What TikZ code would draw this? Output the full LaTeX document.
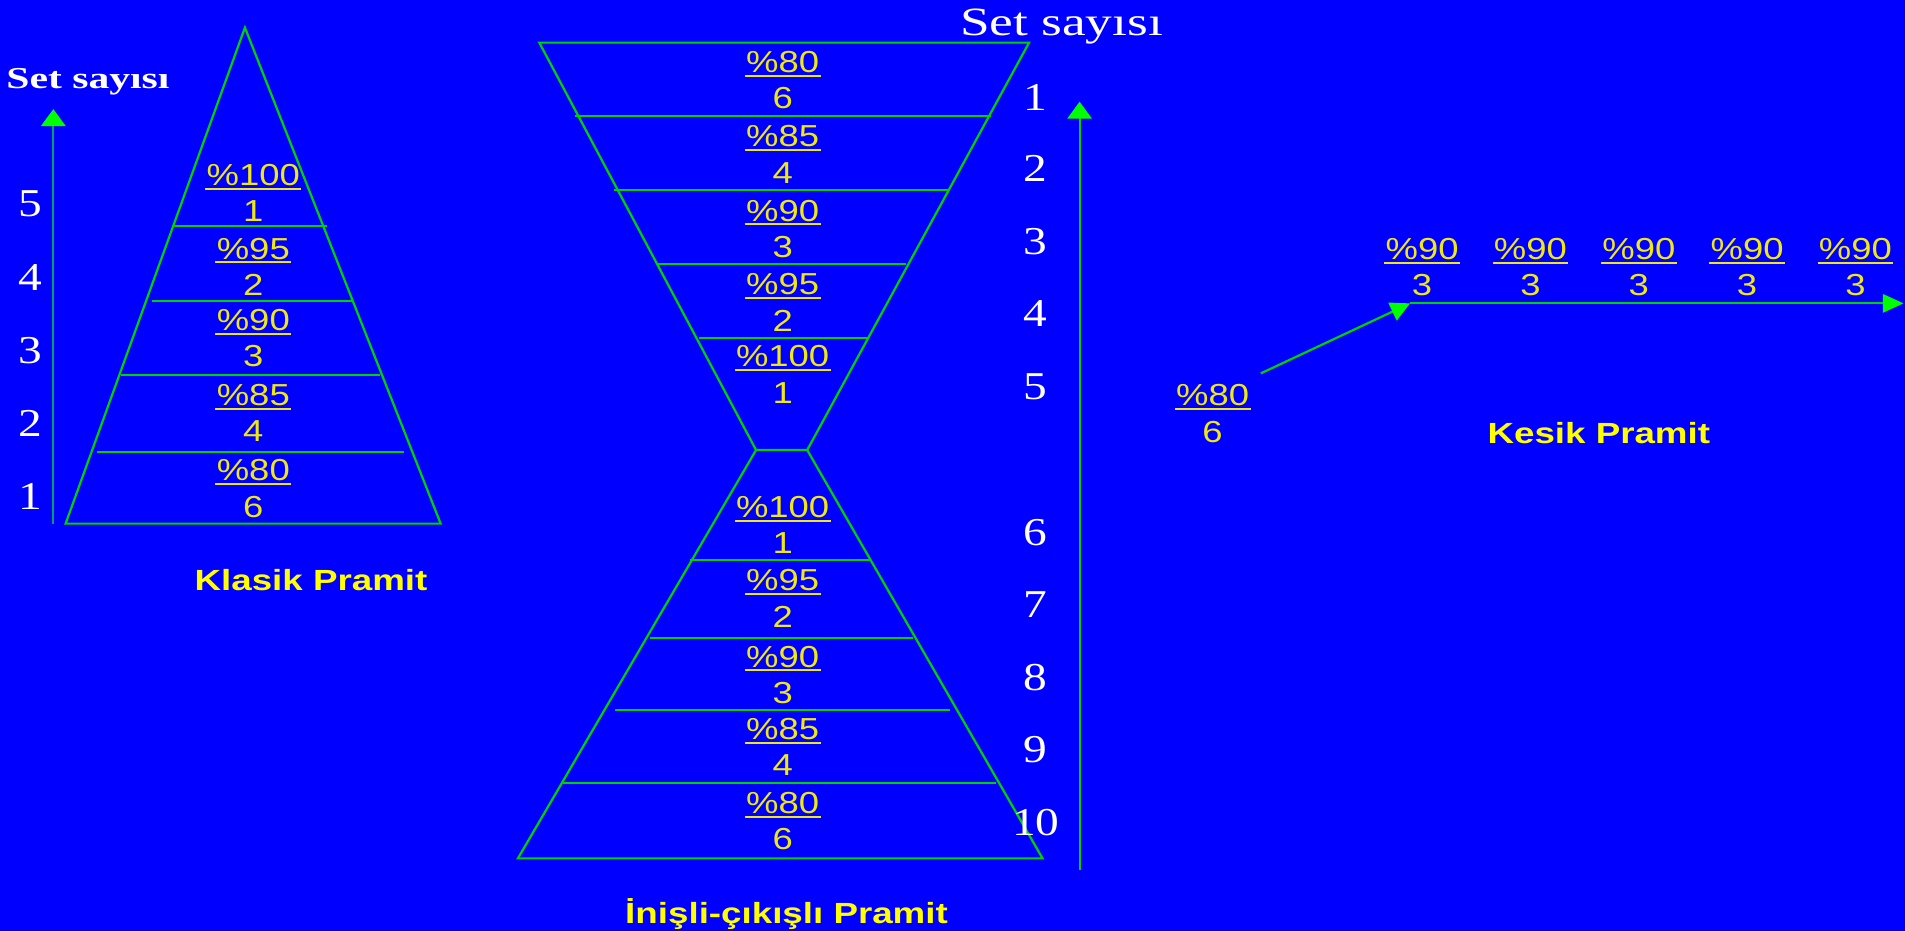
\documentclass[tikz,border=0pt]{standalone}
\usepackage{fontspec}
\usepackage{graphicx}
\usetikzlibrary{arrows.meta}
\newfontfamily\arialf{Liberation Sans}
\newfontfamily\timesf{Liberation Serif}
\definecolor{bgblue}{RGB}{0,0,255}
\definecolor{lgreen}{RGB}{0,210,0}
\definecolor{hgreen}{RGB}{0,255,0}
\definecolor{tealax}{RGB}{0,160,100}
\definecolor{fracy}{RGB}{240,232,20}
\definecolor{titley}{RGB}{255,255,0}
\newcommand\sxf[1]{\scalebox{1.2}[1]{#1}}
\newcommand\sxn[1]{\scalebox{1.2}[1]{#1}}
\newcommand\sxt[1]{\scalebox{1.26}[1]{#1}}
\tikzset{
  pyr/.style={draw=lgreen, line width=1.8pt, line join=miter},
  bar/.style={draw=fracy, line width=1.7pt},
  numf/.style={inner xsep=1pt, inner ysep=0pt, text height=18pt, text depth=0pt, text=fracy, font=\arialf\fontsize{25}{25}\selectfont},
  lvl/.style={inner sep=0pt, text height=22pt, text depth=0pt, text=white, font=\timesf\fontsize{32.5}{32.5}\selectfont},
  ttl/.style={inner sep=0pt, text height=17.2pt, text depth=0pt, text=titley, font=\arialf\bfseries\fontsize{24}{24}\selectfont},
  axisarrow/.style={line width=1.8pt, -{Triangle[width=20pt,length=14pt,color=hgreen]}},
}
\newcommand\frc[5]{%
  \node[numf] (#1n) at (#2,#3) {\sxf{\%#4}};
  \draw[bar] ([yshift=-2.6pt]#1n.south west) -- ([yshift=-2.6pt]#1n.south east);
  \node[numf] (#1d) at (#2,#3+29.8) {\sxf{#5}};
}
\begin{document}
\begin{tikzpicture}[x=1pt,y=-1pt]
\fill[bgblue] (0,0) rectangle (1568,766);
\useasboundingbox (0,0) rectangle (1568,766);

% ---------- Klasik Pramit ----------
\draw[pyr] (201.6,22.7) -- (54,431) -- (362.7,431) -- cycle;
\draw[pyr] (143.2,185.9) -- (268.9,185.9);
\draw[pyr] (124.8,247.6) -- (290.8,247.6);
\draw[pyr] (99.3,308.8) -- (312.8,308.8);
\draw[pyr] (80.1,372.1) -- (332.8,372.1);
\frc{ka}{208.5}{143.4}{100}{1}
\frc{kb}{208.5}{204.2}{95}{2}
\frc{kc}{208.5}{263.1}{90}{3}
\frc{kd}{208.5}{324.5}{85}{4}
\frc{ke}{208.5}{386.9}{80}{6}
\coordinate (lax0) at (43.9,431);
\coordinate (lax1) at (43.9,89.8);
\draw[axisarrow, draw=tealax] (lax0) -- (lax1);
\node[inner sep=0pt, text height=17.5pt, text depth=0pt, text=white, font=\timesf\bfseries\fontsize{25}{25}\selectfont] (setl) at (72.4,63.8) {\scalebox{1.37}[1]{Set sayısı}};
\node[lvl] (l5) at (24.7,167) {\sxn{5}};
\node[lvl] (l4) at (24.7,228.4) {\sxn{4}};
\node[lvl] (l3) at (24.7,288.3) {\sxn{3}};
\node[lvl] (l2) at (24.7,348.1) {\sxn{2}};
\node[lvl] (l1) at (24.7,408) {\sxn{1}};
\node[ttl] (tk) at (256,477.3) {\sxt{Klasik Pramit}};

% ---------- Inisli-cikisli Pramit ----------
\draw[pyr] (443.9,35.1) -- (847,35.1) -- (664.4,370.4) -- (622.3,370.4) -- cycle;
\draw[pyr] (622.3,370.4) -- (426.3,706.5) -- (858.1,706.5) -- (664.4,370.4);
\draw[pyr] (473.3,95.5) -- (815.8,95.5);
\draw[pyr] (505.3,156.7) -- (780.9,156.7);
\draw[pyr] (541,217.6) -- (746,217.6);
\draw[pyr] (575.1,278.5) -- (714.8,278.5);
\draw[pyr] (567.8,461) -- (715.9,461);
\draw[pyr] (535.4,525.4) -- (751.5,525.4);
\draw[pyr] (506.4,584.4) -- (782,584.4);
\draw[pyr] (463,644.8) -- (820.2,644.8);
\frc{ma}{644.2}{50.8}{80}{6}
\frc{mb}{644.2}{111.9}{85}{4}
\frc{mc}{644.2}{172.9}{90}{3}
\frc{md}{644.2}{233.8}{95}{2}
\frc{me}{644.2}{293}{100}{1}
\frc{mf}{644.2}{417.1}{100}{1}
\frc{mg}{644.2}{477.4}{95}{2}
\frc{mh}{644.2}{540}{90}{3}
\frc{mi}{644.2}{599.5}{85}{4}
\frc{mj}{644.2}{660.7}{80}{6}
\node[inner sep=0pt, text height=22pt, text depth=0pt, text=white, font=\timesf\fontsize{33}{33}\selectfont] (setm) at (873.7,18.5) {\scalebox{1.33}[1]{Set sayısı}};
\node[lvl] (m1) at (851.8,79.6) {\sxn{1}};
\node[lvl] (m2) at (851.8,138) {\sxn{2}};
\node[lvl] (m3) at (851.8,198.1) {\sxn{3}};
\node[lvl] (m4) at (851.8,257.9) {\sxn{4}};
\node[lvl] (m5) at (851.8,317.7) {\sxn{5}};
\node[lvl] (m6) at (851.8,437.7) {\sxn{6}};
\node[lvl] (m7) at (851.8,497.2) {\sxn{7}};
\node[lvl] (m8) at (851.8,557) {\sxn{8}};
\node[lvl] (m9) at (851.8,616.8) {\sxn{9}};
\node[lvl] (m10) at (852.6,676.4) {\sxn{10}};
\coordinate (max0) at (888.6,716.1);
\coordinate (max1) at (888.6,83.7);
\draw[axisarrow, draw=lgreen] (max0) -- (max1);
\node[ttl] (ti) at (647.4,751.3) {\sxt{İnişli-çıkışlı Pramit}};

% ---------- Kesik Pramit ----------
\frc{ra}{998.1}{325.1}{80}{6}
\frc{rb}{1170.5}{204.4}{90}{3}
\frc{rc}{1259.7}{204.4}{90}{3}
\frc{rd}{1348.9}{204.4}{90}{3}
\frc{re}{1438}{204.4}{90}{3}
\frc{rf}{1527.2}{204.4}{90}{3}
\coordinate (ks) at (1037.8,307.3);
\coordinate (kj) at (1160.6,249.7);
\coordinate (ke) at (1566.8,249.7);
\draw[line width=1.8pt, draw=lgreen, -{Triangle[width=16pt,length=16pt,color=hgreen]}] (ks) -- (kj);
\draw[line width=1.8pt, draw=lgreen, -{Triangle[width=15pt,length=17pt,color=hgreen]}] (kj) -- (ke);
\node[ttl] (tkes) at (1316,356.7) {\sxt{Kesik Pramit}};
\end{tikzpicture}
\end{document}
